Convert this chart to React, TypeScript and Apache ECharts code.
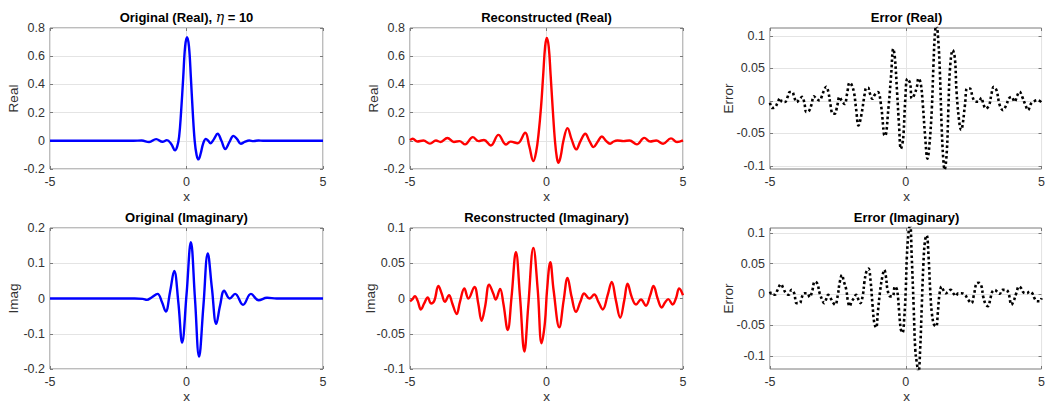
import React, { useEffect, useRef } from "react";
import * as echarts from "echarts";

// ---------- data ----------
const xTicks = [-5, 0, 5];
const errTicks = [-0.1, -0.05, 0, 0.05, 0.1];

const origRealX = [-5, -3, -2.2, -1.94, -1.64, -1.37, -1.11, -0.88, -0.72, -0.56, -0.42, -0.34, -0.27, -0.2, -0.12, -0.05, 0.02, 0.09, 0.16, 0.23, 0.3, 0.37, 0.44, 0.52, 0.61, 0.71, 0.8, 0.88, 1.0, 1.14, 1.28, 1.42, 1.57, 1.72, 1.86, 1.99, 2.13, 2.3, 2.45, 2.64, 2.8, 3.0, 3.5, 4.0, 4.5, 5];
const origRealY = [0, 0, 0, 0, 0.002, -0.009, 0.012, -0.007, 0.005, -0.022, -0.068, -0.04, 0.03, 0.2, 0.45, 0.67, 0.735, 0.67, 0.45, 0.2, 0.0, -0.1, -0.132, -0.09, -0.02, 0.014, 0.0, -0.017, 0.01, 0.05, 0.0, -0.058, -0.01, 0.035, 0.01, -0.021, -0.008, 0.002, -0.002, 0.002, 0, 0, 0, 0, 0, 0];

const reconRealX = [-5, -4.9, -4.73, -4.51, -4.27, -4.05, -3.88, -3.63, -3.39, -3.19, -2.98, -2.7, -2.49, -2.29, -2.04, -1.76, -1.48, -1.31, -1.06, -0.78, -0.63, -0.48, -0.38, -0.29, -0.2, -0.12, -0.05, 0.01, 0.08, 0.15, 0.23, 0.31, 0.38, 0.44, 0.52, 0.62, 0.77, 0.92, 1.09, 1.25, 1.42, 1.57, 1.72, 1.88, 2.03, 2.18, 2.33, 2.46, 2.6, 2.82, 3.04, 3.31, 3.58, 3.8, 4.02, 4.27, 4.56, 4.78, 5];
const reconRealY = [0.005, 0.015, -0.005, 0.002, -0.02, 0.002, -0.008, 0.02, -0.008, -0.002, -0.025, 0.026, -0.002, 0.006, -0.033, 0.042, -0.026, -0.006, -0.017, 0.057, -0.04, -0.144, -0.08, 0.05, 0.24, 0.47, 0.67, 0.73, 0.67, 0.47, 0.22, 0.0, -0.12, -0.156, -0.11, 0.0, 0.09, 0.01, -0.061, 0.0, 0.05, 0.0, -0.045, -0.005, 0.031, 0.0, -0.021, -0.005, 0.002, -0.002, 0.002, -0.025, 0.021, -0.005, 0.002, -0.021, 0.017, -0.009, 0.003];

const errRealX = [-5, -4.92, -4.82, -4.72, -4.63, -4.55, -4.45, -4.35, -4.27, -4.18, -4.11, -4.02, -3.9, -3.82, -3.74, -3.66, -3.57, -3.48, -3.38, -3.29, -3.17, -3.1, -3.01, -2.93, -2.85, -2.77, -2.69, -2.62, -2.52, -2.44, -2.35, -2.25, -2.16, -2.07, -2.01, -1.91, -1.83, -1.74, -1.64, -1.51, -1.45, -1.38, -1.34, -1.22, -1.16, -1.03, -0.91, -0.8, -0.76, -0.64, -0.54, -0.46, -0.4, -0.32, -0.25, -0.18, -0.12, -0.08, -0.02, 0.06, 0.16, 0.22, 0.31, 0.41, 0.47, 0.55, 0.63, 0.71, 0.8, 0.87, 0.96, 1.02, 1.08, 1.13, 1.2, 1.26, 1.32, 1.38, 1.43, 1.51, 1.57, 1.63, 1.73, 1.81, 1.87, 1.97, 2.04, 2.09, 2.18, 2.26, 2.36, 2.46, 2.54, 2.67, 2.79, 2.85, 2.95, 3.07, 3.16, 3.24, 3.34, 3.46, 3.58, 3.7, 3.8, 3.89, 4.01, 4.1, 4.19, 4.29, 4.41, 4.5, 4.62, 4.74, 4.86, 5];
const errRealY = [-0.003, -0.011, -0.01, -0.003, 0.004, -0.002, -0.002, 0.006, 0.0134, 0.0134, 0.006, -0.002, 0.003, 0.006, -0.002, -0.0175, -0.016, -0.007, 0.007, 0.003, 0.0005, 0.006, 0.016, 0.0216, 0.0134, -0.007, -0.02, -0.02, -0.007, 0.006, -0.0005, -0.005, 0.011, 0.0278, 0.026, 0.0134, -0.012, -0.038, -0.023, 0.011, 0.02, 0.02, 0.0134, 0.003, 0.008, 0.0134, -0.007, -0.052, -0.054, -0.012, 0.039, 0.08, 0.066, 0.0134, -0.036, -0.074, -0.065, -0.05, 0.0, 0.034, 0.027, 0.0036, 0.009, 0.0216, 0.0345, 0.027, -0.0067, -0.053, -0.089, -0.0686, -0.012, 0.055, 0.107, 0.116, 0.091, 0.04, -0.038, -0.089, -0.106, -0.079, -0.012, 0.05, 0.078, 0.065, 0.014, -0.0325, -0.045, -0.038, -0.0067, 0.019, 0.019, 0.006, -0.0005, -0.0015, 0.0046, -0.004, -0.012, -0.0067, 0.0113, 0.0216, 0.0165, -0.0067, -0.0144, -0.0067, 0.0036, 0.006, -0.0015, 0.0077, 0.014, 0.006, -0.0067, -0.0144, -0.004, -0.0005, 0.001, -0.0026];

const origImagX = [-5, -2.5, -1.9, -1.6, -1.45, -1.28, -1.06, -0.9, -0.76, -0.6, -0.45, -0.3, -0.16, 0.0, 0.16, 0.31, 0.46, 0.62, 0.78, 0.93, 1.09, 1.23, 1.38, 1.58, 1.78, 2.07, 2.36, 2.64, 2.95, 3.3, 4, 5];
const origImagY = [0, 0, 0, -0.001, -0.004, 0.003, 0.013, -0.01, -0.037, 0.02, 0.078, -0.01, -0.125, 0.01, 0.16, 0.0, -0.165, -0.02, 0.128, 0.03, -0.072, -0.02, 0.022, 0.0, 0.013, -0.018, 0.013, -0.005, 0.002, 0, 0, 0];

const reconImagX = [-5, -4.92, -4.82, -4.72, -4.6, -4.48, -4.35, -4.23, -4.11, -3.96, -3.84, -3.72, -3.57, -3.45, -3.29, -3.17, -3.01, -2.86, -2.64, -2.5, -2.38, -2.25, -2.1, -1.95, -1.86, -1.7, -1.58, -1.42, -1.28, -1.12, -0.97, -0.81, -0.67, -0.48, -0.32, -0.18, -0.06, 0.02, 0.14, 0.26, 0.47, 0.63, 0.77, 0.92, 1.08, 1.24, 1.38, 1.57, 1.75, 1.9, 2.06, 2.24, 2.39, 2.54, 2.7, 2.85, 2.97, 3.12, 3.28, 3.46, 3.64, 3.8, 3.92, 4.07, 4.22, 4.34, 4.46, 4.62, 4.74, 4.86, 5];
const reconImagY = [-0.004, -0.0014, 0.0033, -0.0033, -0.0155, -0.007, 0.0014, -0.007, -0.0033, 0.0178, 0.007, -0.0047, 0.0047, -0.007, -0.022, -0.0047, 0.0141, 0.0, 0.0164, -0.007, -0.0315, -0.0117, 0.0197, 0.007, -0.0014, 0.0136, -0.007, -0.0446, 0.0023, 0.0657, 0.0023, -0.0751, -0.0117, 0.0718, 0.0117, -0.0634, -0.035, 0.012, 0.0516, 0.0117, -0.0408, -0.0023, 0.0291, 0.0023, -0.0188, -0.0047, 0.007, 0.0, 0.0056, -0.0047, -0.0155, 0.0047, 0.0235, -0.0023, -0.0272, -0.0023, 0.0211, 0.0023, -0.0085, -0.0014, -0.0103, 0.0047, 0.0178, 0.0, -0.0127, -0.0056, -0.0009, -0.0085, 0.0, 0.0141, 0.0047];

const errImagX = [-5, -4.92, -4.82, -4.72, -4.6, -4.51, -4.43, -4.31, -4.21, -4.11, -4.02, -3.9, -3.84, -3.74, -3.62, -3.54, -3.45, -3.35, -3.26, -3.17, -3.08, -3.01, -2.93, -2.86, -2.77, -2.68, -2.6, -2.5, -2.44, -2.35, -2.28, -2.19, -2.13, -2.07, -1.99, -1.91, -1.83, -1.74, -1.67, -1.58, -1.52, -1.45, -1.37, -1.3, -1.22, -1.16, -1.09, -1.03, -0.94, -0.85, -0.79, -0.73, -0.67, -0.57, -0.48, -0.4, -0.32, -0.24, -0.18, -0.12, -0.06, 0.0, 0.04, 0.1, 0.16, 0.22, 0.29, 0.35, 0.41, 0.47, 0.53, 0.59, 0.65, 0.71, 0.77, 0.84, 0.9, 0.96, 1.04, 1.12, 1.18, 1.24, 1.32, 1.38, 1.48, 1.57, 1.65, 1.75, 1.85, 1.93, 2.06, 2.18, 2.3, 2.42, 2.51, 2.61, 2.7, 2.79, 2.85, 2.95, 3.03, 3.12, 3.19, 3.28, 3.36, 3.46, 3.56, 3.7, 3.8, 3.89, 3.97, 4.07, 4.17, 4.25, 4.34, 4.46, 4.56, 4.66, 4.74, 4.83, 4.93, 5];
const errImagY = [0.0048, -0.0005, -0.0005, 0.0075, 0.0167, 0.0102, 0.0032, -0.0005, 0.0075, 0.002, -0.014, -0.014, -0.006, 0.002, 0.002, -0.0043, 0.0048, 0.021, 0.018, 0.002, -0.0086, -0.014, -0.0075, -0.0005, -0.006, -0.013, -0.0167, -0.0005, 0.018, 0.0317, 0.021, 0.0075, -0.011, -0.019, -0.011, -0.006, -0.0005, -0.0086, -0.014, -0.0005, 0.021, 0.037, 0.042, 0.0237, -0.019, -0.046, -0.054, -0.03, 0.0075, 0.0317, 0.04, 0.029, 0.0075, -0.003, -0.003, 0.013, 0.0075, -0.03, -0.057, -0.062, -0.041, 0.0075, 0.061, 0.099, 0.115, 0.061, -0.019, -0.089, -0.112, -0.126, -0.089, -0.019, 0.0505, 0.088, 0.096, 0.061, 0.0075, -0.03, -0.049, -0.052, -0.03, -0.0005, 0.013, 0.0075, 0.002, 0.0048, 0.0075, 0.002, -0.0022, 0.002, 0.002, -0.0005, -0.0086, -0.014, -0.0005, 0.018, 0.019, 0.013, -0.003, -0.0167, -0.019, -0.0059, 0.0048, 0.0075, 0.0048, 0.0011, 0.0075, 0.0075, -0.0005, -0.0167, -0.011, 0.002, 0.013, 0.0102, 0.0032, 0.002, 0.0048, 0.002, -0.006, -0.011, -0.011, -0.006];

// ---------- layout / style ----------
const FONT = '"Liberation Sans", Arial, Helvetica, sans-serif';
const COLS = [50, 410, 770];
const ROWS = [28, 228];
const PW = 273;
const PH = 141;
const BOX = "#7a7a7a";
const GRIDC = "#e4e4e4";
const TXT = "#333333";
const TICKFS = 12.5;
const NAMEFS = 13.5;

type Panel = {
  title: string;
  yName: string;
  yNameX: number;
  xs: number[];
  ys: number[];
  color: string;
  dotted: boolean;
  ymin: number;
  ymax: number;
  yint?: number;
  yticks?: number[];
};

const panels: Panel[] = [
  { title: "{b|Original (Real), }{i|η}{b| = 10}", yName: "Real", yNameX: 13, xs: origRealX, ys: origRealY, color: "#0000ff", dotted: false, ymin: -0.2, ymax: 0.8, yint: 0.2 },
  { title: "{b|Reconstructed (Real)}", yName: "Real", yNameX: 373, xs: reconRealX, ys: reconRealY, color: "#ff0000", dotted: false, ymin: -0.2, ymax: 0.8, yint: 0.2 },
  { title: "{b|Error (Real)}", yName: "Error", yNameX: 728, xs: errRealX, ys: errRealY, color: "#000000", dotted: true, ymin: -0.105, ymax: 0.112, yticks: errTicks },
  { title: "{b|Original (Imaginary)}", yName: "Imag", yNameX: 13, xs: origImagX, ys: origImagY, color: "#0000ff", dotted: false, ymin: -0.2, ymax: 0.2, yint: 0.1 },
  { title: "{b|Reconstructed (Imaginary)}", yName: "Imag", yNameX: 370, xs: reconImagX, ys: reconImagY, color: "#ff0000", dotted: false, ymin: -0.1, ymax: 0.1, yint: 0.05 },
  { title: "{b|Error (Imaginary)}", yName: "Error", yNameX: 728, xs: errImagX, ys: errImagY, color: "#000000", dotted: true, ymin: -0.121, ymax: 0.108, yticks: errTicks },
];

function buildOption() {
  const grid: any[] = [];
  const xAxis: any[] = [];
  const yAxis: any[] = [];
  const series: any[] = [];
  const graphic: any[] = [];

  panels.forEach((p, i) => {
    const col = i % 3;
    const row = Math.floor(i / 3);
    const left = COLS[col];
    const top = ROWS[row];
    grid.push({ left, top, width: PW, height: PH, show: true, borderColor: BOX, borderWidth: 1, backgroundColor: "transparent", containLabel: false });

    const xBase = {
      type: "value", gridIndex: i, min: xTicks[0], max: xTicks[xTicks.length - 1], interval: 5,
      axisLine: { show: false, onZero: false },
      axisTick: { show: true, inside: true, length: 3, lineStyle: { color: BOX } },
    };
    xAxis.push({
      ...xBase, position: "bottom",
      axisLabel: { show: true, margin: 6, color: TXT, fontSize: TICKFS, fontFamily: FONT },
      splitLine: { show: true, lineStyle: { color: GRIDC, width: 1 } },
    });
    xAxis.push({ ...xBase, position: "top", axisLabel: { show: false }, splitLine: { show: false } });

    const yBase: any = {
      type: "value", gridIndex: i, min: p.ymin, max: p.ymax,
      axisLine: { show: false, onZero: false },
    };
    if (p.yint) yBase.interval = p.yint;
    const tickCfg: any = { show: true, inside: true, length: 3, lineStyle: { color: BOX } };
    const labCfg: any = { show: true, margin: 5, color: TXT, fontSize: TICKFS, fontFamily: FONT };
    if (p.yticks) {
      tickCfg.customValues = p.yticks;
      labCfg.customValues = p.yticks;
    }
    yAxis.push({ ...yBase, position: "left", axisTick: tickCfg, axisLabel: labCfg, splitLine: { show: true, lineStyle: { color: GRIDC, width: 1 } } });
    yAxis.push({ ...yBase, position: "right", axisTick: { ...tickCfg }, axisLabel: { show: false }, splitLine: { show: false } });

    series.push({
      type: "line",
      xAxisIndex: 2 * i,
      yAxisIndex: 2 * i,
      data: p.xs.map((x, k) => [x, p.ys[k]]),
      showSymbol: false,
      smooth: 0.4,
      clip: true,
      z: 3,
      lineStyle: p.dotted
        ? { color: p.color, width: 2.6, type: [2.6, 2.6], cap: "butt" }
        : { color: p.color, width: 2.4 },
    });

    const cx = left + PW / 2;
    graphic.push({
      type: "text", x: cx, y: top - 11,
      style: {
        text: p.title, align: "center", verticalAlign: "middle", textAlign: "center", textVerticalAlign: "middle",
        fill: "#000",
        rich: {
          b: { fontWeight: "bold", fontSize: 13, fontFamily: FONT, fill: "#000" },
          i: { fontStyle: "italic", fontSize: 14, fontFamily: '"DejaVu Serif", "Liberation Serif", serif', fill: "#000" },
        },
      },
    });
    graphic.push({
      type: "text", x: p.yNameX, y: top + PH / 2, rotation: Math.PI / 2,
      style: { text: p.yName, fontSize: NAMEFS, fontFamily: FONT, fill: TXT, align: "center", verticalAlign: "middle", textAlign: "center", textVerticalAlign: "middle" },
    });
    graphic.push({
      type: "text", x: cx, y: top + PH + 27,
      style: { text: "x", fontSize: NAMEFS, fontFamily: FONT, fill: TXT, align: "center", verticalAlign: "middle", textAlign: "center", textVerticalAlign: "middle" },
    });
  });

  return {
    animation: false,
    backgroundColor: "#ffffff",
    grid, xAxis, yAxis, series, graphic,
  };
}

export default function App() {
  const ref = useRef<HTMLDivElement>(null);
  useEffect(() => {
    if (!ref.current) return;
    const chart = echarts.init(ref.current, undefined, { renderer: "svg" });
    chart.setOption(buildOption() as any);
    return () => chart.dispose();
  }, []);
  return <div ref={ref} style={{ position: "absolute", left: 0, top: 0, width: 1048, height: 405, background: "#fff" }} />;
}
